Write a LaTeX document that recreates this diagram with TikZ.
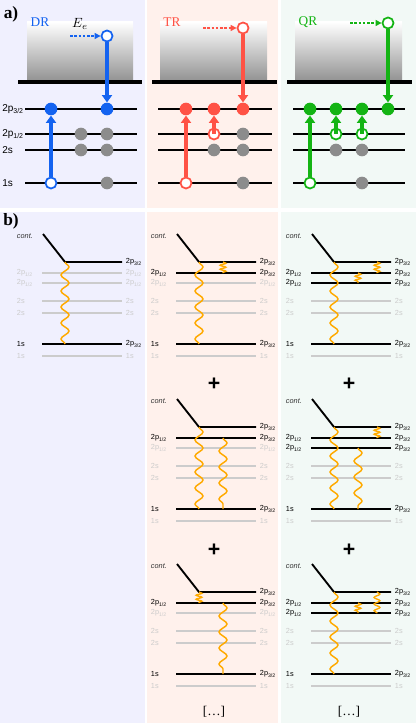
\documentclass[tikz,border=0pt]{standalone}
\usepackage{fontspec}
\setmainfont{Liberation Serif}
\setsansfont{Liberation Sans}
\usetikzlibrary{arrows.meta, decorations.pathmorphing}
\definecolor{drblue}{HTML}{1463F0}
\definecolor{trred}{HTML}{FF5245}
\definecolor{qrgreen}{HTML}{14B414}
\definecolor{elgray}{HTML}{8C8C8C}
\definecolor{offgray}{HTML}{CCCCCC}
\definecolor{waveorange}{HTML}{FFAA00}
\definecolor{drfill}{HTML}{F0F0FE}
\definecolor{trfill}{HTML}{FFF1EC}
\definecolor{qrfill}{HTML}{F2F9F6}

\begin{document}
\begin{tikzpicture}[x=0.75pt, y=-0.75pt, font=\sffamily,
  elec/.style={circle, inner sep=0pt, minimum size=9.5pt},
  full/.style={elec, fill=#1},
  hole/.style={elec, draw=#1, fill=white, line width=1.3pt, minimum size=8.3pt},
  core/.style={elec, fill=elgray},
  jump/.style={draw=#1, line width=2.8pt, -{Triangle[length=5.5pt, width=7.5pt]}},
  beam/.style={draw=#1, line width=0.8pt, dash pattern=on 2pt off 1.2pt, -{Triangle[length=4.5pt, width=4.5pt]}},
  lvla/.style={line width=1.5pt},
  thresh/.style={line width=2.3pt},
  tag/.style={font=\rmfamily\fontsize{10}{12}\selectfont, text=#1},
  lvlon/.style={line width=1.4pt},
  lvloff/.style={offgray, line width=1.1pt},
  lblon/.style={anchor=west, inner sep=0.5pt, font=\sffamily\fontsize{5.5}{6}\selectfont},
  lbloff/.style={lblon, text=offgray},
  wave/.style={waveorange, line width=1.1pt, decorate, decoration={snake, segment length=12pt, amplitude=3pt}},
  ripple/.style={waveorange, line width=1pt, decorate, decoration={snake, segment length=3pt, amplitude=2.2pt}},
  plus/.style={font=\sffamily\bfseries\fontsize{16}{16}\selectfont}]
  \useasboundingbox (0,0) rectangle (416,723);

  % --- panels ---
  \fill[drfill] (0,0) rectangle (145,208);
  \fill[trfill] (147,0) rectangle (278,208);
  \fill[qrfill] (281,0) rectangle (416,208);
  \fill[drfill] (0,212) rectangle (145,723);
  \fill[trfill] (147,212) rectangle (278,723);
  \fill[qrfill] (281,212) rectangle (416,723);
  \node[font=\rmfamily\bfseries\fontsize{13}{13}\selectfont] (parta) at (11,14) {a)};
  \node[font=\rmfamily\bfseries\fontsize{13}{13}\selectfont] (partb) at (11,221) {b)};

  % --- continuum boxes and levels ---
  \shade[top color=white, bottom color=black!42] (27,22) rectangle (133,80);
  \shade[top color=white, bottom color=black!42] (160,22) rectangle (267,80);
  \shade[top color=white, bottom color=black!42] (295,22) rectangle (402,80);
  \draw[thresh] (18,82) -- (142,82);
  \draw[thresh] (152,82) -- (277,82);
  \draw[thresh] (287,82) -- (412,82);
  \foreach \y in {109,134,150,183} {
    \draw[lvla] (25,\y) -- (137,\y);
    \draw[lvla] (158,\y) -- (272,\y);
    \draw[lvla] (293,\y) -- (405,\y);
  }
  \node[anchor=west, inner sep=0pt, font=\sffamily\fontsize{7.5}{8}\selectfont] (n2p3) at (2,109) {2p\textsubscript{3/2}};
  \node[anchor=west, inner sep=0pt, font=\sffamily\fontsize{7.5}{8}\selectfont] (n2p1) at (2,134) {2p\textsubscript{1/2}};
  \node[anchor=west, inner sep=0pt, font=\sffamily\fontsize{7.5}{8}\selectfont] (n2s) at (2,150) {2s};
  \node[anchor=west, inner sep=0pt, font=\sffamily\fontsize{7.5}{8}\selectfont] (n1s) at (2,183) {1s};

  % --- DR ---
  \node[tag=drblue] (drtag) at (40,22) {DR};
  \node[font=\rmfamily\fontsize{10}{12}\selectfont] (ee) at (80,24) {$E_e$};
  \coordinate (dr-e) at (70,36);
  \node[hole=drblue] (dr-in) at (107,36) {};
  \node[full=drblue] (dr-f1) at (51,109) {};
  \node[full=drblue] (dr-f2) at (107,109) {};
  \node[core] (dr-g1) at (81,134) {};
  \node[core] (dr-g2) at (107,134) {};
  \node[core] (dr-g3) at (81,150) {};
  \node[core] (dr-g4) at (107,150) {};
  \node[core] (dr-g5) at (107,183) {};
  \node[hole=drblue] (dr-h1) at (51,183) {};
  \draw[beam=drblue] (dr-e) -- (dr-in);
  \draw[jump=drblue] (dr-in) -- (dr-f2);
  \draw[jump=drblue] (dr-h1) -- (dr-f1);

  % --- TR ---
  \node[tag=trred] (trtag) at (172,22) {TR};
  \coordinate (tr-e) at (203,28);
  \node[hole=trred] (tr-in) at (243,28) {};
  \node[full=trred] (tr-f1) at (186,109) {};
  \node[full=trred] (tr-f2) at (214,109) {};
  \node[full=trred] (tr-f3) at (243,109) {};
  \node[hole=trred] (tr-h2) at (214,134) {};
  \node[core] (tr-g1) at (243,134) {};
  \node[core] (tr-g2) at (214,150) {};
  \node[core] (tr-g3) at (243,150) {};
  \node[core] (tr-g4) at (243,183) {};
  \node[hole=trred] (tr-h1) at (186,183) {};
  \draw[beam=trred] (tr-e) -- (tr-in);
  \draw[jump=trred] (tr-in) -- (tr-f3);
  \draw[jump=trred] (tr-h1) -- (tr-f1);
  \draw[jump=trred] (tr-h2.center) -- (tr-f2);

  % --- QR ---
  \node[tag=qrgreen] (qrtag) at (308,22) {QR};
  \coordinate (qr-e) at (350,23);
  \node[hole=qrgreen] (qr-in) at (388,23) {};
  \node[full=qrgreen] (qr-f1) at (310,109) {};
  \node[full=qrgreen] (qr-f2) at (336,109) {};
  \node[full=qrgreen] (qr-f3) at (362,109) {};
  \node[full=qrgreen] (qr-f4) at (388,109) {};
  \node[hole=qrgreen] (qr-h2) at (336,134) {};
  \node[hole=qrgreen] (qr-h3) at (362,134) {};
  \node[core] (qr-g1) at (336,150) {};
  \node[core] (qr-g2) at (362,150) {};
  \node[core] (qr-g3) at (362,183) {};
  \node[hole=qrgreen] (qr-h1) at (310,183) {};
  \draw[beam=qrgreen] (qr-e) -- (qr-in);
  \draw[jump=qrgreen] (qr-in) -- (qr-f4);
  \draw[jump=qrgreen] (qr-h1) -- (qr-f1);
  \draw[jump=qrgreen] (qr-h2.center) -- (qr-f2);
  \draw[jump=qrgreen] (qr-h3.center) -- (qr-f3);

  % --- b) level schemes ---
  \foreach \nm/\px/\py/\lb/\lc/\rb/\rc in {dr/42/262/off/off/1/1, tra/176/262/on/off/3/1,
      trb/176/427/on/off/3/1, trc/176/592/on/off/3/1, qra/311/262/on/on/3/3,
      qrb/311/427/on/on/3/3, qrc/311/592/on/on/3/3} {
    \coordinate (\nm-a) at (\px+23,\py);
    \coordinate (\nm-b) at (\px+47,\py);
    \coordinate (\nm-r) at (\px+66,\py);
    \coordinate (\nm-1) at (\px,\py);
    \coordinate (\nm-2) at (\px,\py+11);
    \coordinate (\nm-3) at (\px,\py+21);
    \coordinate (\nm-4) at (\px,\py+39);
    \coordinate (\nm-5) at (\px,\py+51);
    \coordinate (\nm-6) at (\px,\py+82);
    \coordinate (\nm-7) at (\px,\py+94);
    \draw[lvlon] (\px+1,\py-28) -- (\nm-a) -- (\px+80,\py);
    \draw[lvl\lb] (\nm-2) -- ++(80,0);
    \draw[lvl\lc] (\nm-3) -- ++(80,0);
    \draw[lvloff] (\nm-4) -- ++(80,0);
    \draw[lvloff] (\nm-5) -- ++(80,0);
    \draw[lvlon] (\nm-6) -- ++(80,0);
    \draw[lvloff] (\nm-7) -- ++(80,0);
    \node[lblon, text=black!80] (\nm-cont) at (\px-26,\py-26) {\itshape cont.};
    \node[lblon] (\nm-r1) at (\px+83,\py) {2p\textsubscript{3/2}};
    \node[lbl\lb] (\nm-l2) at (\px-26,\py+11) {2p\textsubscript{1/2}};
    \node[lbl\lb] (\nm-r2) at (\px+83,\py+11) {2p\textsubscript{\rb/2}};
    \node[lbl\lc] (\nm-l3) at (\px-26,\py+21) {2p\textsubscript{1/2}};
    \node[lbl\lc] (\nm-r3) at (\px+83,\py+21) {2p\textsubscript{\rc/2}};
    \node[lbloff] (\nm-l4) at (\px-26,\py+39) {2s};
    \node[lbloff] (\nm-r4) at (\px+83,\py+39) {2s};
    \node[lbloff] (\nm-l5) at (\px-26,\py+51) {2s};
    \node[lbloff] (\nm-r5) at (\px+83,\py+51) {2s};
    \node[lblon] (\nm-l6) at (\px-26,\py+82) {1s};
    \node[lblon] (\nm-r6) at (\px+83,\py+82) {2p\textsubscript{3/2}};
    \node[lbloff] (\nm-l7) at (\px-26,\py+94) {1s};
    \node[lbloff] (\nm-r7) at (\px+83,\py+94) {1s};
  }

  % --- photon exchanges ---
  \draw[wave] (dr-1 -| dr-a) -- (dr-6 -| dr-a);
  \draw[wave] (tra-1 -| tra-a) -- (tra-6 -| tra-a);
  \draw[ripple] (tra-1 -| tra-b) -- (tra-2 -| tra-b);
  \draw[wave] (trb-1 -| trb-a) -- (trb-6 -| trb-a);
  \draw[wave] (trb-2 -| trb-b) -- (trb-6 -| trb-b);
  \draw[ripple] (trc-1 -| trc-a) -- (trc-2 -| trc-a);
  \draw[wave] (trc-2 -| trc-b) -- (trc-6 -| trc-b);
  \draw[wave] (qra-1 -| qra-a) -- (qra-6 -| qra-a);
  \draw[ripple] (qra-1 -| qra-r) -- (qra-2 -| qra-r);
  \draw[ripple] (qra-2 -| qra-b) -- (qra-3 -| qra-b);
  \draw[wave] (qrb-1 -| qrb-a) -- (qrb-6 -| qrb-a);
  \draw[ripple] (qrb-1 -| qrb-r) -- (qrb-2 -| qrb-r);
  \draw[wave] (qrb-3 -| qrb-b) -- (qrb-6 -| qrb-b);
  \draw[wave] (qrc-1 -| qrc-a) -- (qrc-6 -| qrc-a);
  \draw[ripple] (qrc-2 -| qrc-b) -- (qrc-3 -| qrc-b);
  \draw[ripple, decoration={segment length=5pt}] (qrc-1 -| qrc-r) -- (qrc-3 -| qrc-r);

  % --- sums ---
  \node[plus] (trplus1) at (214,384) {+};
  \node[plus] (trplus2) at (214,550) {+};
  \node[plus] (qrplus1) at (349,384) {+};
  \node[plus] (qrplus2) at (349,550) {+};
  \node[font=\rmfamily\fontsize{10}{12}\selectfont] (trmore) at (214,712) {[…]};
  \node[font=\rmfamily\fontsize{10}{12}\selectfont] (qrmore) at (349,712) {[…]};
\end{tikzpicture}
\end{document}
